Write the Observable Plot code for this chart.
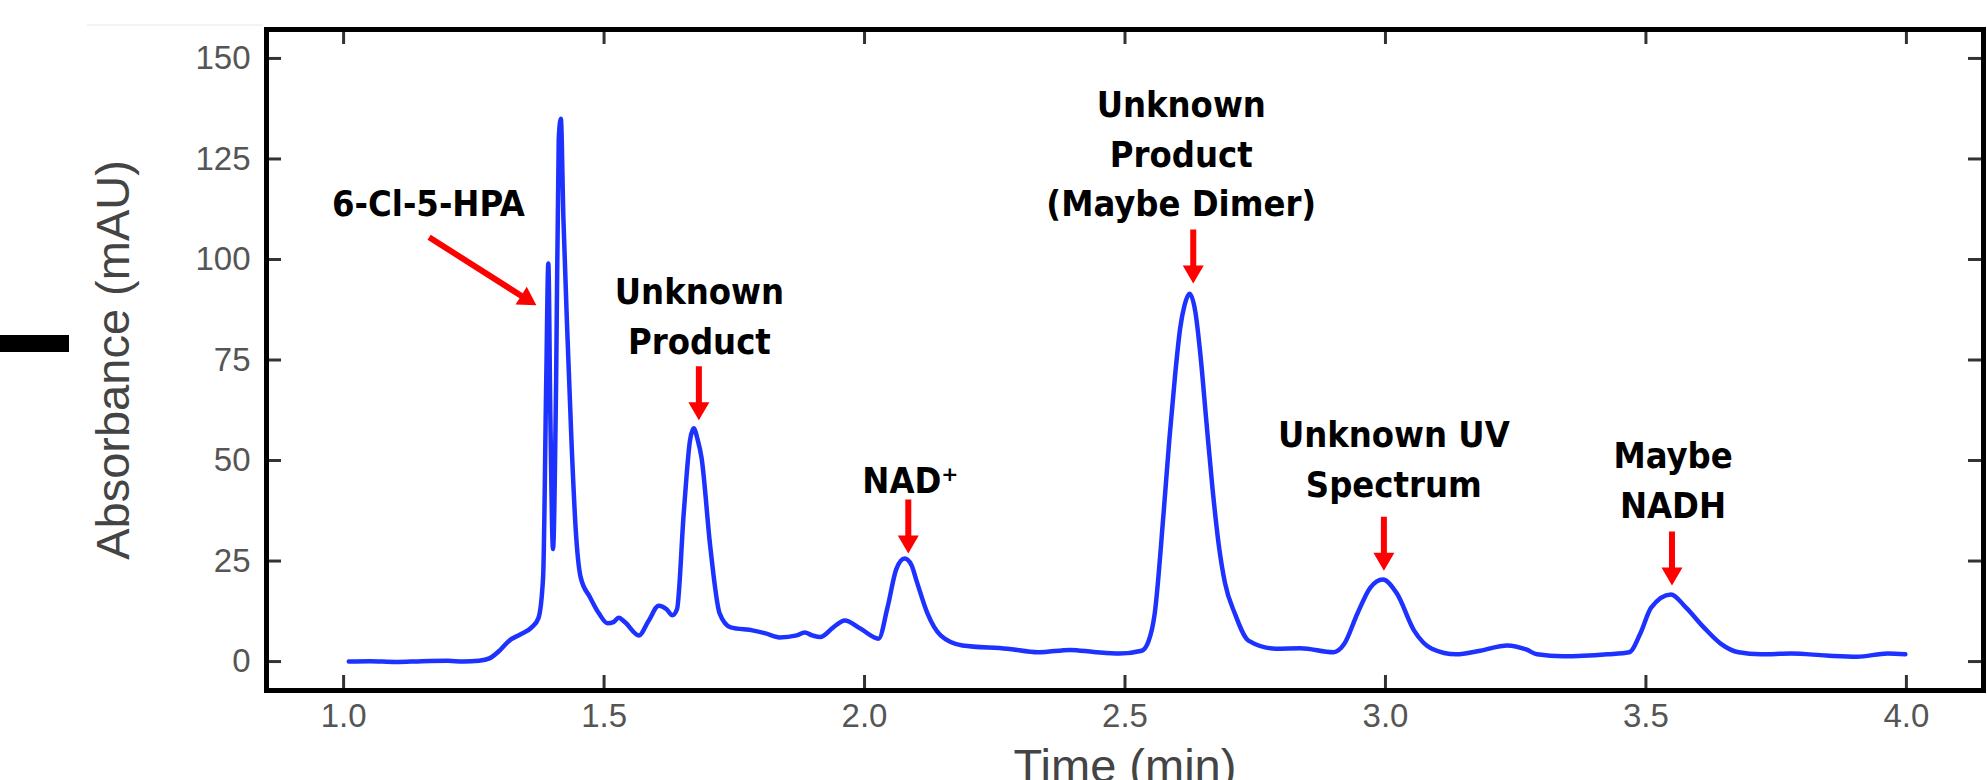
<!DOCTYPE html>
<html>
<head>
<meta charset="utf-8">
<script src="https://cdn.jsdelivr.net/npm/d3@7"></script>
<script src="https://cdn.jsdelivr.net/npm/@observablehq/plot@0.6"></script>
<style>
html, body { margin: 0; padding: 0; background: #fff; overflow: hidden; width: 1987px; height: 780px; }
#wrap { position: relative; width: 1987px; height: 780px; }
#bar { position: absolute; left: 0; top: 335px; width: 69px; height: 17px; background: #000; }
#faint { position: absolute; left: 87px; top: 24px; width: 176px; height: 2px; background: #f3f3f3; }
</style>
</head>
<body>
<div id="wrap"><div id="chart"></div><div id="bar"></div><div id="faint"></div></div>
<script>
// ---- data ----
const time = [1.010, 1.050, 1.100, 1.150, 1.200, 1.230, 1.260, 1.280, 1.300, 1.318, 1.340, 1.361, 1.374, 1.383,
  1.389, 1.393, 1.397, 1.402, 1.408, 1.413, 1.417, 1.422, 1.430, 1.438, 1.446, 1.455, 1.473, 1.490, 1.507, 1.518,
  1.528, 1.540, 1.567, 1.585, 1.605, 1.620, 1.631, 1.640, 1.653, 1.665, 1.672, 1.680, 1.687, 1.704, 1.722, 1.743,
  1.787, 1.810, 1.837, 1.870, 1.885, 1.900, 1.915, 1.940, 1.962, 1.992, 2.027, 2.044, 2.061, 2.077, 2.090, 2.100,
  2.121, 2.146, 2.188, 2.274, 2.334, 2.395, 2.440, 2.489, 2.532, 2.545, 2.557, 2.574, 2.585, 2.596, 2.606, 2.614,
  2.624, 2.635, 2.645, 2.656, 2.668, 2.680, 2.692, 2.711, 2.737, 2.789, 2.837, 2.900, 2.921, 2.946, 2.971, 2.995,
  3.022, 3.055, 3.089, 3.136, 3.182, 3.234, 3.270, 3.291, 3.341, 3.426, 3.468, 3.489, 3.510, 3.548, 3.577, 3.611,
  3.644, 3.678, 3.720, 3.779, 3.846, 3.905, 3.964, 3.998];
const absorbance = [0.0, 0.1, -0.1, 0.1, 0.2, 0.0, 0.2, 0.8, 2.8, 5.2, 6.8, 8.5, 10.8, 21,
  70, 99, 60, 28, 70, 130, 135, 110, 80, 53, 32, 21, 16, 12, 9.5, 9.8,
  10.9, 9.8, 6.5, 10, 13.9, 13, 11.5, 13, 37, 55, 58, 55, 50.8, 28.4, 11.9, 8.5,
  7.7, 7, 6, 6.5, 7.2, 6.5, 6.1, 8.5, 10.2, 8.2, 5.7, 13.4, 23, 25.6, 24, 20,
  11.9, 6.5, 4.0, 3.2, 2.3, 2.9, 2.4, 2.0, 2.7, 5, 11.9, 36.8, 55, 71, 83, 88.5,
  91.5, 87, 76, 60, 43, 29, 19.5, 11.9, 5.2, 3.2, 3.3, 2.3, 4.4, 11.9, 18.4, 20.4,
  16.9, 7.7, 3.2, 1.8, 2.7, 4.0, 3.0, 1.8, 1.3, 1.8, 2.3, 6.9, 13.4, 16.7, 13.4, 8.5,
  4.4, 2.3, 1.8, 2.0, 1.5, 1.2, 2.0, 1.8];

const xTicks = [1.0, 1.5, 2.0, 2.5, 3.0, 3.5, 4.0];
const yTicks = [0, 25, 50, 75, 100, 125, 150];
const xLabel = "Time (min)";
const yLabel = "Absorbance (mAU)";

// annotations: label, time & absorbance where the arrow tip points, label anchor (time, absorbance of last baseline)
const annoLabels = ["6-Cl-5-HPA", "Unknown\nProduct", "NAD\u207A", "Unknown\nProduct\n(Maybe Dimer)", "Unknown UV\nSpectrum", "Maybe\nNADH"];
const arrowTime = [1.370, 1.682, 2.084, 2.631, 2.997, 3.550];
const arrowTip = [88.6, 60.0, 26.9, 94.0, 22.6, 18.9];
const labelTime = [1.163, 1.683, 2.088, 2.608, 3.016, 3.552];
const labelValue = [110.7, 76.6, 41.8, 110.7, 41.0, 35.8];

// ---- build ----
const trace = time.map((t, i) => ({t, a: absorbance[i]}));
const annos = annoLabels.map((label, i) => ({label, at: arrowTime[i], tip: arrowTip[i], lx: labelTime[i], ly: labelValue[i]}));

const W = 1987, H = 780, mL = 266, mR = 4, mT = 29, mB = 90;
const plotW = W - mL - mR, plotH = H - mT - mB, tickLen = 15;

const arrowShape = {
  draw(ctx, l) {
    const w = 3, hw = 10.5, hl = 18;
    ctx.moveTo(-w, 0);
    ctx.lineTo(-w, -(l - hl));
    ctx.lineTo(-hw, -(l - hl));
    ctx.lineTo(0, -l);
    ctx.lineTo(hw, -(l - hl));
    ctx.lineTo(w, -(l - hl));
    ctx.lineTo(w, 0);
    ctx.closePath();
  }
};

const annoFont = "'DejaVu Sans Condensed', 'DejaVu Sans', sans-serif";

const chart = Plot.plot({
  width: W, height: H,
  marginLeft: mL, marginRight: mR, marginTop: mT, marginBottom: mB,
  x: {domain: [0.852, 4.148]},
  y: {domain: [-7.2, 157.2]},
  style: {fontFamily: "'Liberation Sans', Arial, sans-serif", background: "white", overflow: "visible"},
  marks: [
    // inward ticks on four sides
    Plot.tickX(xTicks, {x: d => d, insetTop: plotH - tickLen, stroke: "#333", strokeWidth: 3}),
    Plot.tickX(xTicks, {x: d => d, insetBottom: plotH - tickLen, stroke: "#333", strokeWidth: 3}),
    Plot.tickY(yTicks, {y: d => d, insetRight: plotW - tickLen, stroke: "#333", strokeWidth: 3}),
    Plot.tickY(yTicks, {y: d => d, insetLeft: plotW - tickLen, stroke: "#333", strokeWidth: 3}),
    Plot.axisX({ticks: xTicks, anchor: "bottom", tickSize: 0, tickPadding: 13, tickFormat: d3.format(".1f"), fontSize: 33, color: "#555", label: null}),
    Plot.axisY({ticks: yTicks, anchor: "left", tickSize: 0, tickPadding: 16, fontSize: 33, color: "#555", label: null}),
    Plot.frame({stroke: "#000", strokeWidth: 5}),
    Plot.line(trace, {x: "t", y: "a", stroke: "#1e32ff", strokeWidth: 4.5, curve: "monotone-x"}),
    // arrows
    Plot.vector(annos.filter((d, i) => i === 0), {x: "at", y: "tip", anchor: "end", length: 127, rotate: 122.4, shape: arrowShape, fill: "#ff0000", stroke: "none"}),
    Plot.vector(annos.filter((d, i) => i > 0), {x: "at", y: "tip", anchor: "end", length: 54, rotate: 180, shape: arrowShape, fill: "#ff0000", stroke: "none"}),
    // labels
    Plot.text(annos, {x: "lx", y: "ly", text: "label", lineAnchor: "bottom", lineHeight: 1.375, fontSize: 36, fontWeight: "bold", fontFamily: annoFont, fill: "#000"}),
    // axis titles
    Plot.text([yLabel], {frameAnchor: "left", rotate: -90, dx: -153, fontSize: 47, fill: "#444", textAnchor: "middle", lineAnchor: "middle"}),
    Plot.text([xLabel], {frameAnchor: "bottom", dy: 91, fontSize: 47, fill: "#444", textAnchor: "middle", lineAnchor: "bottom"})
  ]
});
document.getElementById("chart").appendChild(chart);
</script>
</body>
</html>
